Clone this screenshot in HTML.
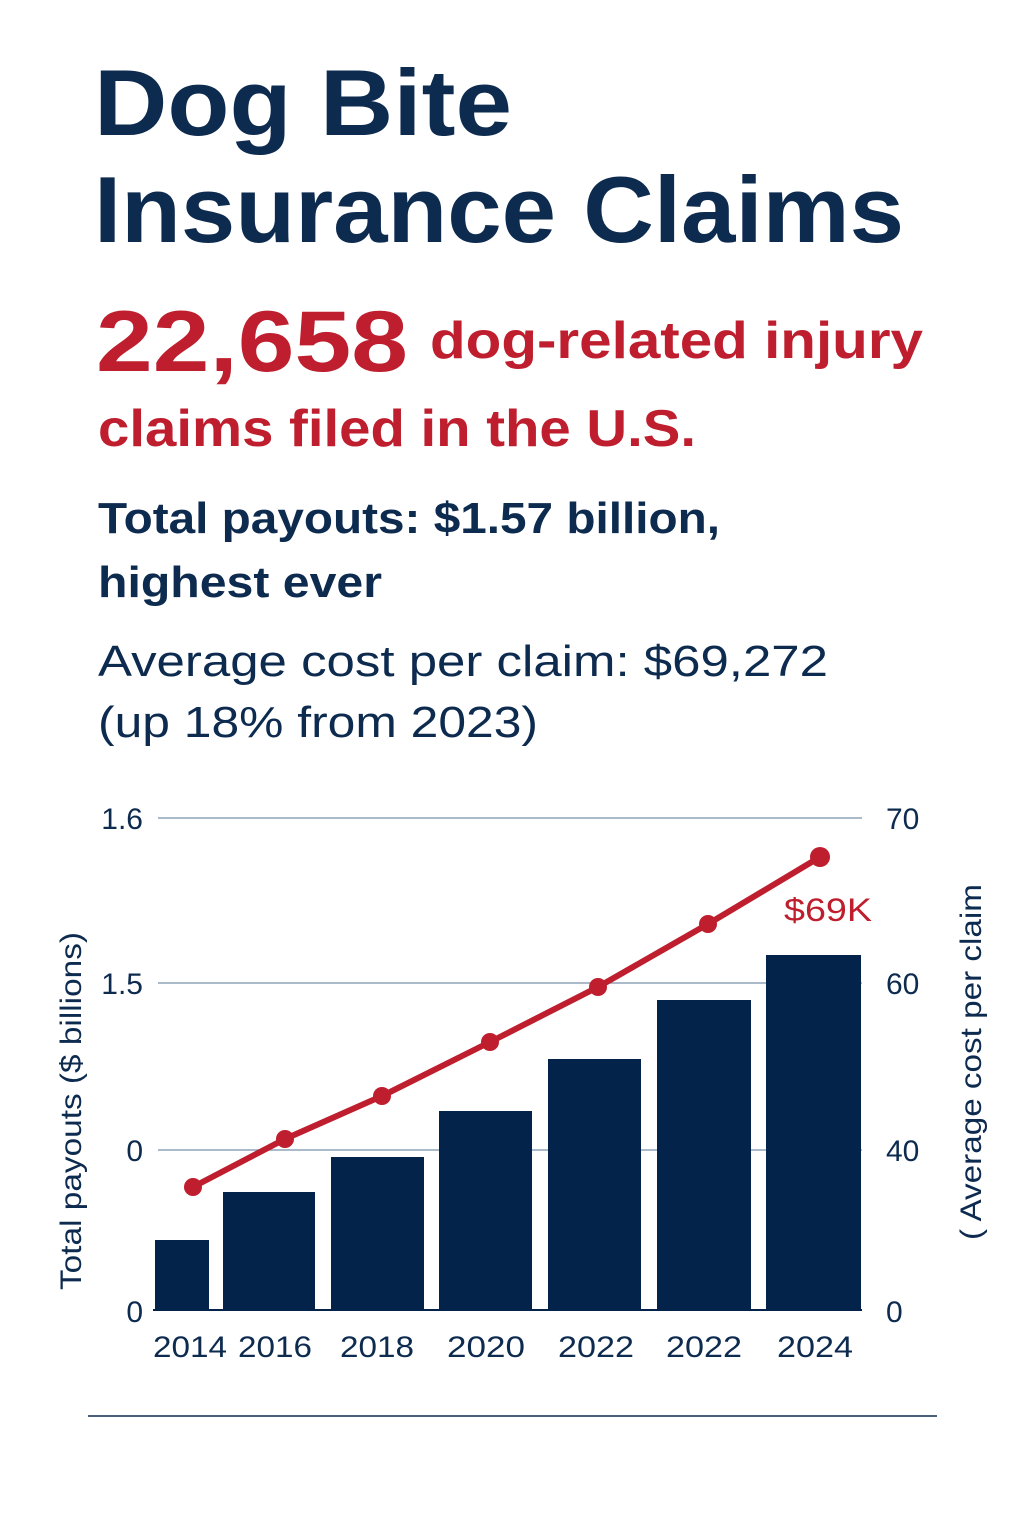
<!DOCTYPE html>
<html><head><meta charset="utf-8"><style>
html,body{margin:0;padding:0;background:#fff;width:1024px;height:1536px;overflow:hidden}
svg{display:block}
</style></head><body>
<svg width="1024" height="1536" viewBox="0 0 1024 1536" font-family="Liberation Sans, sans-serif">
<g fill="#0d2a4f" font-weight="bold">
<text x="94" y="135" font-size="94" textLength="418" lengthAdjust="spacingAndGlyphs">Dog Bite</text>
<text x="94" y="242" font-size="94" textLength="810" lengthAdjust="spacingAndGlyphs">Insurance Claims</text>
</g>
<g fill="#be1e2d" font-weight="bold">
<text x="96" y="371" font-size="86" textLength="312" lengthAdjust="spacingAndGlyphs">22,658</text>
<text x="430" y="358" font-size="52" textLength="493" lengthAdjust="spacingAndGlyphs">dog-related injury</text>
<text x="98" y="446" font-size="52" textLength="598" lengthAdjust="spacingAndGlyphs">claims filed in the U.S.</text>
</g>
<g fill="#0d2a4f" font-weight="bold" font-size="44">
<text x="98" y="533" textLength="622" lengthAdjust="spacingAndGlyphs">Total payouts: $1.57 billion,</text>
<text x="98" y="597" textLength="284" lengthAdjust="spacingAndGlyphs">highest ever</text>
<text x="98" y="676" font-weight="normal" textLength="730" lengthAdjust="spacingAndGlyphs">Average cost per claim: $69,272</text>
<text x="98" y="737" font-weight="normal" textLength="440" lengthAdjust="spacingAndGlyphs">(up 18% from 2023)</text>
</g>
<g stroke="#8ea3b5" stroke-width="1.5">
<line x1="158" y1="818" x2="862" y2="818"/>
<line x1="158" y1="983" x2="862" y2="983"/>
<line x1="158" y1="1150" x2="862" y2="1150"/>
</g>
<g fill="#03234a">
<rect x="155" y="1240" width="54" height="70"/>
<rect x="223" y="1192" width="92" height="118"/>
<rect x="331" y="1157" width="93" height="153"/>
<rect x="439" y="1111" width="93" height="199"/>
<rect x="548" y="1059" width="93" height="251"/>
<rect x="657" y="1000" width="94" height="310"/>
<rect x="766" y="955" width="95" height="355"/>
</g>
<line x1="153" y1="1310" x2="862" y2="1310" stroke="#03234a" stroke-width="2"/>
<polyline points="193,1187 285,1139 382,1096 490,1042 598,987 708,924 820,857" fill="none" stroke="#be1e2d" stroke-width="6"/>
<g fill="#be1e2d">
<circle cx="193" cy="1187" r="9"/><circle cx="285" cy="1139" r="9"/><circle cx="382" cy="1096" r="9"/>
<circle cx="490" cy="1042" r="9"/><circle cx="598" cy="987" r="9"/><circle cx="708" cy="924" r="9"/><circle cx="820" cy="857" r="10"/>
<text x="784" y="921" font-size="32" textLength="88" lengthAdjust="spacingAndGlyphs">$69K</text>
</g>
<g fill="#0d2a4f" font-size="30">
<text x="143" y="829" text-anchor="end">1.6</text>
<text x="143" y="994" text-anchor="end">1.5</text>
<text x="143" y="1161" text-anchor="end">0</text>
<text x="143" y="1322" text-anchor="end">0</text>
<text x="886" y="829">70</text>
<text x="886" y="994">60</text>
<text x="886" y="1161">40</text>
<text x="886" y="1322">0</text>
<text x="190" y="1357" text-anchor="middle" textLength="74" lengthAdjust="spacingAndGlyphs">2014</text>
<text x="275" y="1357" text-anchor="middle" textLength="74" lengthAdjust="spacingAndGlyphs">2016</text>
<text x="377" y="1357" text-anchor="middle" textLength="74" lengthAdjust="spacingAndGlyphs">2018</text>
<text x="486" y="1357" text-anchor="middle" textLength="78" lengthAdjust="spacingAndGlyphs">2020</text>
<text x="596" y="1357" text-anchor="middle" textLength="76" lengthAdjust="spacingAndGlyphs">2022</text>
<text x="704" y="1357" text-anchor="middle" textLength="76" lengthAdjust="spacingAndGlyphs">2022</text>
<text x="815" y="1357" text-anchor="middle" textLength="76" lengthAdjust="spacingAndGlyphs">2024</text>
<text transform="translate(81,1290) rotate(-90)" font-size="30" textLength="358" lengthAdjust="spacingAndGlyphs">Total payouts ($ billions)</text>
<text transform="translate(981,1240) rotate(-90)" font-size="30" textLength="356" lengthAdjust="spacingAndGlyphs">( Average cost per claim</text>
</g>
<line x1="88" y1="1416" x2="937" y2="1416" stroke="#0d2a4f" stroke-width="1.5"/>
</svg>
</body></html>
